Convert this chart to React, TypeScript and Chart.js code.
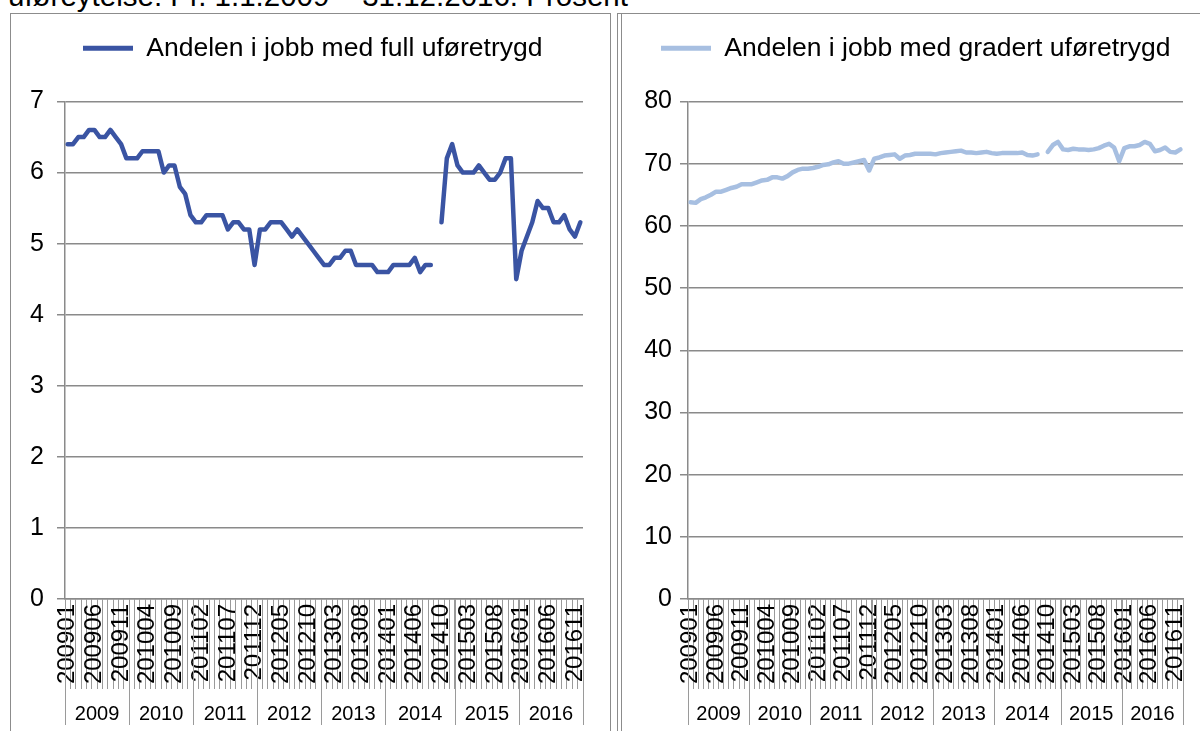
import React, { useEffect, useRef } from "react";
import { Chart, registerables } from "chart.js";

Chart.register(...registerables);

// ---------- DATA ----------
const months2009 = ["200901", "200902", "200903", "200904", "200905", "200906", "200907", "200908", "200909", "200910", "200911", "200912"];
const months2010 = ["201001", "201002", "201003", "201004", "201005", "201006", "201007", "201008", "201009", "201010", "201011", "201012"];
const months2011 = ["201101", "201102", "201103", "201104", "201105", "201106", "201107", "201108", "201109", "201110", "201111", "201112"];
const months2012 = ["201201", "201202", "201203", "201204", "201205", "201206", "201207", "201208", "201209", "201210", "201211", "201212"];
const months2013 = ["201301", "201302", "201303", "201304", "201305", "201306", "201307", "201308", "201309", "201310", "201311", "201312"];
const months2014 = ["201401", "201402", "201403", "201404", "201405", "201406", "201407", "201408", "201409", "", "201410", "201411", "201412"];
const months2015 = ["201501", "201502", "201503", "201504", "201505", "201506", "201507", "201508", "201509", "201510", "201511", "201512"];
const months2016 = ["201601", "201602", "201603", "201604", "201605", "201606", "201607", "201608", "201609", "201610", "201611", "201612"];

const categories = [
  ...months2009, ...months2010, ...months2011, ...months2012,
  ...months2013, ...months2014, ...months2015, ...months2016,
];

const years = ["2009", "2010", "2011", "2012", "2013", "2014", "2015", "2016"];
const yearCounts = [12, 12, 12, 12, 12, 13, 12, 12];

const fullLabel = "Andelen i jobb med full uføretrygd";
const gradertLabel = "Andelen i jobb med gradert uføretrygd";

const fullValues: (number | null)[] = [
  // 2009
  6.4, 6.4, 6.5, 6.5, 6.6, 6.6, 6.5, 6.5, 6.6, 6.5, 6.4, 6.2,
  // 2010
  6.2, 6.2, 6.3, 6.3, 6.3, 6.3, 6.0, 6.1, 6.1, 5.8, 5.7, 5.4,
  // 2011
  5.3, 5.3, 5.4, 5.4, 5.4, 5.4, 5.2, 5.3, 5.3, 5.2, 5.2, 4.7,
  // 2012
  5.2, 5.2, 5.3, 5.3, 5.3, 5.2, 5.1, 5.2, 5.1, 5.0, 4.9, 4.8,
  // 2013
  4.7, 4.7, 4.8, 4.8, 4.9, 4.9, 4.7, 4.7, 4.7, 4.7, 4.6, 4.6,
  // 2014
  4.6, 4.7, 4.7, 4.7, 4.7, 4.8, 4.6, 4.7, 4.7, null, 5.3, 6.2, 6.4,
  // 2015
  6.1, 6.0, 6.0, 6.0, 6.1, 6.0, 5.9, 5.9, 6.0, 6.2, 6.2, 4.5,
  // 2016
  4.9, 5.1, 5.3, 5.6, 5.5, 5.5, 5.3, 5.3, 5.4, 5.2, 5.1, 5.3,
];

const gradertValues: (number | null)[] = [
  // 2009
  63.8, 63.7, 64.3, 64.6, 65.0, 65.5, 65.5, 65.8, 66.1, 66.3, 66.7, 66.7,
  // 2010
  66.7, 67.0, 67.3, 67.4, 67.8, 67.8, 67.6, 68.0, 68.6, 69.0, 69.2, 69.2,
  // 2011
  69.3, 69.5, 69.8, 69.9, 70.2, 70.4, 70.0, 70.0, 70.2, 70.4, 70.6, 68.9,
  // 2012
  70.8, 71.0, 71.3, 71.4, 71.5, 70.8, 71.3, 71.4, 71.6, 71.6, 71.6, 71.6,
  // 2013
  71.5, 71.7, 71.8, 71.9, 72.0, 72.1, 71.8, 71.8, 71.7, 71.8, 71.9, 71.7,
  // 2014
  71.6, 71.7, 71.7, 71.7, 71.7, 71.8, 71.4, 71.3, 71.5, null, 71.9, 73.0, 73.5,
  // 2015
  72.3, 72.2, 72.4, 72.3, 72.3, 72.2, 72.3, 72.5, 72.9, 73.2, 72.6, 70.4,
  // 2016
  72.5, 72.8, 72.8, 73.0, 73.5, 73.2, 72.0, 72.2, 72.6, 71.9, 71.8, 72.3,
];

const captionText = "uføreytelse: Pr. 1.1.2009 – 31.12.2016. Prosent";

// ---------- STYLE ----------
const FONT = "'Liberation Sans', Arial, Helvetica, sans-serif";
const GRID = "#8a8a8a";
const TICK_LINE = "#9a9a9a";

const yearGroupPlugin = {
  id: "yearGroups",
  afterDraw(chart: any, _args: any, opts: any) {
    const xs = chart.scales.x;
    const ctx = chart.ctx;
    const half = (xs.getPixelForValue(1) - xs.getPixelForValue(0)) / 2;
    const y0 = xs.top;
    const y1 = y0 + opts.lineLength;
    ctx.save();
    ctx.strokeStyle = opts.lineColor;
    ctx.lineWidth = 1;
    ctx.fillStyle = "#000";
    ctx.font = `${opts.fontSize}px ${FONT}`;
    ctx.textAlign = "center";
    ctx.textBaseline = "middle";
    let start = 0;
    opts.counts.forEach((c: number, k: number) => {
      const left = xs.getPixelForValue(start) - half;
      const right = xs.getPixelForValue(start + c - 1) + half;
      const lines = k === opts.counts.length - 1 ? [left, right] : [left];
      lines.forEach((lx: number) => {
        const px = Math.round(lx) + 0.5;
        ctx.beginPath();
        ctx.moveTo(px, y0);
        ctx.lineTo(px, y1);
        ctx.stroke();
      });
      ctx.fillText(opts.years[k], (left + right) / 2, y0 + opts.labelOffset);
      start += c;
    });
    ctx.restore();
  },
};

function makeConfig(
  label: string,
  values: (number | null)[],
  color: string,
  yMax: number,
  yStep: number,
  yWidth: number,
  padRight: number,
  yPad: number,
  legendPad: number
): any {
  return {
    type: "line",
    data: {
      labels: categories,
      datasets: [
        {
          label,
          data: values,
          borderColor: color,
          backgroundColor: color,
          borderWidth: 4.5,
          pointRadius: 0,
          pointHoverRadius: 0,
          tension: 0,
          spanGaps: false,
          borderCapStyle: "round",
          borderJoinStyle: "round",
        },
      ],
    },
    options: {
      responsive: false,
      animation: false,
      events: [],
      layout: { padding: { top: 0, left: 0, right: padRight, bottom: 0 } },
      plugins: {
        tooltip: { enabled: false },
        // empty spacer between legend and plot area
        title: {
          display: true,
          text: "",
          weight: 500,
          padding: 0,
          font: { family: FONT, size: 30, lineHeight: 1 },
        },
        legend: {
          display: true,
          position: "top",
          align: "start",
          labels: {
            color: "#000",
            font: { family: FONT, size: 26.5 },
            boxWidth: 50,
            boxHeight: 5,
            padding: legendPad,
            generateLabels: () => [
              {
                text: label,
                fillStyle: color,
                strokeStyle: color,
                lineWidth: 0,
                hidden: false,
                datasetIndex: 0,
                fontColor: "#000",
              },
            ],
          },
        },
        yearGroups: {
          years,
          counts: yearCounts,
          lineLength: 126,
          labelOffset: 115,
          fontSize: 20,
          lineColor: TICK_LINE,
        },
      },
      scales: {
        x: {
          type: "category",
          offset: true,
          afterFit: (s: any) => {
            s.height = 132;
          },
          grid: {
            display: true,
            drawOnChartArea: false,
            drawTicks: true,
            tickLength: 90,
            offset: true,
            color: TICK_LINE,
            lineWidth: 1,
          },
          border: { display: true, color: GRID, width: 1.5 },
          ticks: {
            autoSkip: false,
            minRotation: 90,
            maxRotation: 90,
            padding: -85,
            color: "#000",
            font: { family: FONT, size: 24 },
            callback: (_v: any, i: number) => (i % 5 === 0 ? categories[i] : ""),
          },
        },
        y: {
          min: 0,
          max: yMax,
          afterFit: (s: any) => {
            s.width = yWidth;
          },
          grid: {
            color: GRID,
            lineWidth: 1.5,
            drawTicks: true,
            tickLength: 8,
          },
          border: { display: true, color: GRID, width: 1.5 },
          ticks: {
            stepSize: yStep,
            padding: yPad,
            color: "#000",
            font: { family: FONT, size: 25 },
          },
        },
      },
    },
    plugins: [yearGroupPlugin],
  };
}

function ChartCanvas(props: {
  left: number;
  top: number;
  width: number;
  config: () => any;
}) {
  const ref = useRef<HTMLCanvasElement | null>(null);
  const height = 731 - props.top;
  useEffect(() => {
    if (!ref.current) return;
    const chart = new Chart(ref.current, props.config());
    return () => chart.destroy();
  }, []);
  return (
    <canvas
      ref={ref}
      width={props.width}
      height={height}
      style={{
        position: "absolute",
        left: props.left,
        top: props.top,
        width: props.width,
        height,
      }}
    />
  );
}

// legend padding p places the legend key at x = p; canvas top = 34.75 - p keeps
// the legend row at y = 48 and the plot top at y = 101
const LEFT_LEGEND_PAD = 73;
const RIGHT_LEGEND_PAD = 41;

export default function App() {
  return (
    <div
      style={{
        position: "fixed",
        left: 0,
        top: 0,
        width: 1200,
        height: 731,
        overflow: "hidden",
        background: "#fff",
      }}
    >
      <div
        style={{
          position: "absolute",
          left: 8,
          top: -19,
          fontFamily: FONT,
          fontSize: 29.5,
          lineHeight: "29px",
          whiteSpace: "nowrap",
          color: "#000",
        }}
      >
        {captionText}
      </div>
      {/* left frame */}
      <div
        style={{
          position: "absolute",
          left: 10,
          top: 13,
          width: 601,
          height: 740,
          borderLeft: "1px solid #8c8c8c",
          borderTop: "1px solid #8c8c8c",
          borderRight: "1px solid #8c8c8c",
          boxSizing: "border-box",
        }}
      />
      {/* right frame (double left edge) */}
      <div
        style={{
          position: "absolute",
          left: 617,
          top: 13,
          width: 600,
          height: 740,
          borderLeft: "1px solid #8c8c8c",
          borderTop: "1px solid #8c8c8c",
          boxSizing: "border-box",
        }}
      />
      <div
        style={{
          position: "absolute",
          left: 621,
          top: 13,
          width: 1,
          height: 740,
          background: "#8c8c8c",
        }}
      />
      <ChartCanvas
        left={10}
        top={34.75 - LEFT_LEGEND_PAD}
        width={602}
        config={() => makeConfig(fullLabel, fullValues, "#3A54A3", 7, 1, 55, 29, 13, LEFT_LEGEND_PAD)}
      />
      <ChartCanvas
        left={620}
        top={34.75 - RIGHT_LEGEND_PAD}
        width={580}
        config={() => makeConfig(gradertLabel, gradertValues, "#A7BFE1", 80, 10, 68, 17, 8, RIGHT_LEGEND_PAD)}
      />
    </div>
  );
}
